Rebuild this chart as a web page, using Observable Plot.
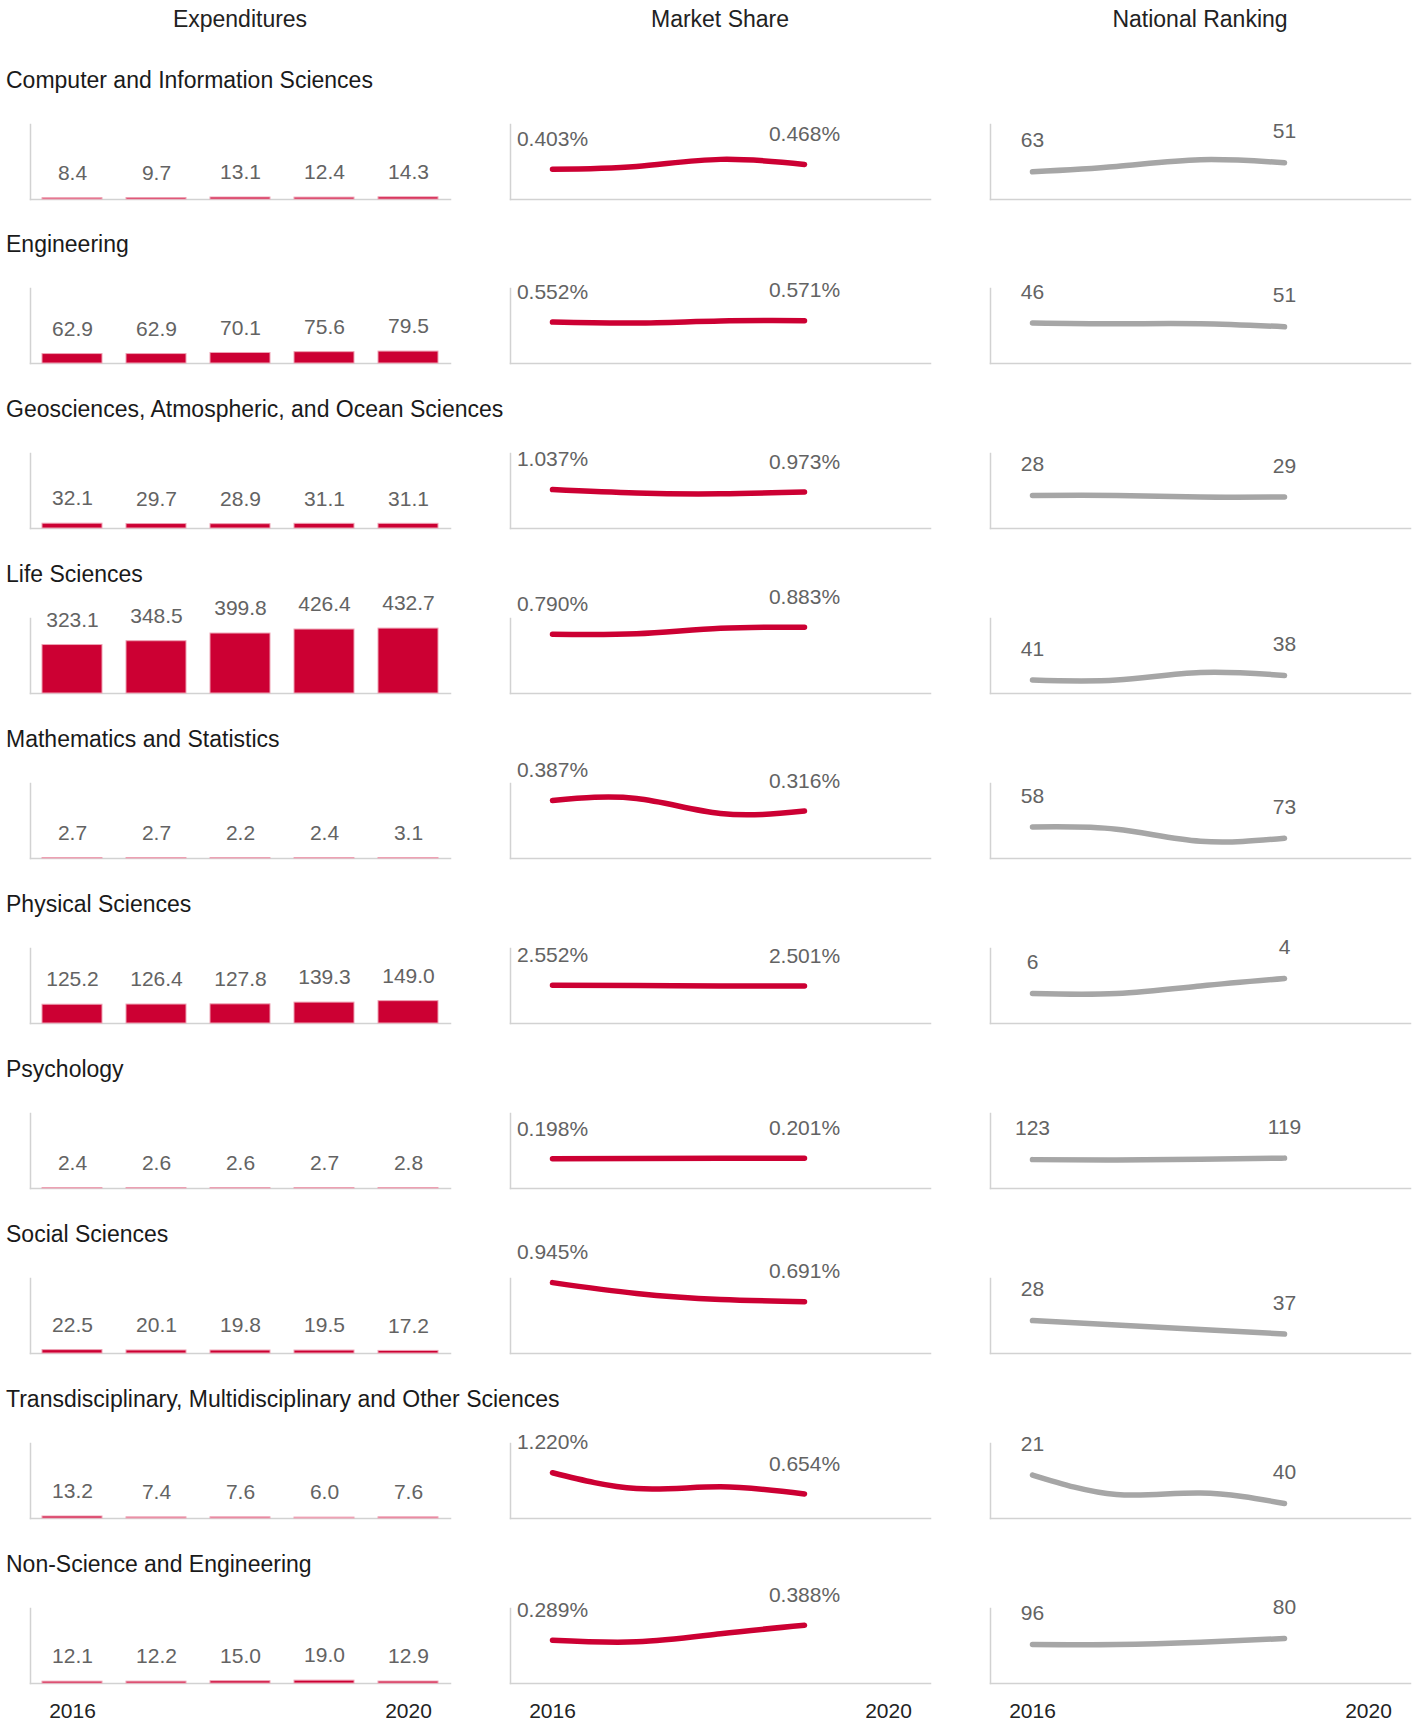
<!DOCTYPE html>
<html><head><meta charset="utf-8">
<script src="https://cdn.jsdelivr.net/npm/d3@7"></script>
<script src="https://cdn.jsdelivr.net/npm/@observablehq/plot@0.6"></script>
<style>
body{margin:0;background:#fff;font-family:"Liberation Sans",Arial,sans-serif;}
#wrap{position:relative;width:1416px;height:1723px;overflow:hidden;}
.hdr{position:absolute;top:0;width:480px;text-align:center;font-size:23px;color:#222;line-height:38px;}
.ttl{position:absolute;left:6px;font-size:23px;color:#1a1a1a;line-height:30px;white-space:nowrap;}
.cell{position:absolute;width:480px;}
.cell svg{max-width:none !important;}
</style></head><body><div id="wrap"></div><script>
const fields = [
  "Computer and Information Sciences",
  "Engineering",
  "Geosciences, Atmospheric, and Ocean Sciences",
  "Life Sciences",
  "Mathematics and Statistics",
  "Physical Sciences",
  "Psychology",
  "Social Sciences",
  "Transdisciplinary, Multidisciplinary and Other Sciences",
  "Non-Science and Engineering"
];
const columns = ["Expenditures", "Market Share", "National Ranking"];
const years = [2016, 2017, 2018, 2019, 2020];
const lineYears = [2016, 2017, 2018, 2019];
const tickYears = [2016, 2020];
const expenditures = [
  [8.4, 9.7, 13.1, 12.4, 14.3],
  [62.9, 62.9, 70.1, 75.6, 79.5],
  [32.1, 29.7, 28.9, 31.1, 31.1],
  [323.1, 348.5, 399.8, 426.4, 432.7],
  [2.7, 2.7, 2.2, 2.4, 3.1],
  [125.2, 126.4, 127.8, 139.3, 149.0],
  [2.4, 2.6, 2.6, 2.7, 2.8],
  [22.5, 20.1, 19.8, 19.5, 17.2],
  [13.2, 7.4, 7.6, 6.0, 7.6],
  [12.1, 12.2, 15.0, 19.0, 12.9]
];
const marketShare = [
  [0.403, 0.440, 0.535, 0.468],
  [0.552, 0.540, 0.567, 0.571],
  [1.037, 0.945, 0.925, 0.973],
  [0.790, 0.797, 0.870, 0.883],
  [0.387, 0.400, 0.300, 0.316],
  [2.552, 2.538, 2.505, 2.501],
  [0.198, 0.200, 0.201, 0.201],
  [0.945, 0.800, 0.720, 0.691],
  [1.220, 0.800, 0.845, 0.654],
  [0.289, 0.278, 0.332, 0.388]
];
const ranking = [
  [63, 56, 47, 51],
  [46, 47, 47, 51],
  [28, 28, 29, 29],
  [41, 41, 36, 38],
  [58, 61, 77, 73],
  [6, 6, 5, 4],
  [123, 124, 122, 119],
  [28, 31, 34, 37],
  [21, 34, 33, 40],
  [96, 96, 90, 80]
];

const RED = "#cc0033", GRAY = "#a6a6a6", AXIS = "#d2d2d2", LABEL = "#636363";
const FONT = '"Liberation Sans", Arial, sans-serif';
const ROW0 = 198.5, STEP = 164.9, PH = 75, MT = 45, MB = 40, W = 480;
const wrap = document.getElementById("wrap");

columns.forEach((c, i) => {
  const d = document.createElement("div");
  d.className = "hdr"; d.style.left = (i * W) + "px"; d.textContent = c;
  wrap.appendChild(d);
});

const expMax = d3.max(expenditures.flat());

function place(svg, left, top) {
  const d = document.createElement("div");
  d.className = "cell"; d.style.left = left + "px"; d.style.top = top + "px";
  d.appendChild(svg); wrap.appendChild(d);
}

fields.forEach((name, k) => {
  const base = ROW0 + STEP * k;
  const last = k === fields.length - 1;
  const t = document.createElement("div");
  t.className = "ttl"; t.style.top = (base - 119 - 15) + "px"; t.textContent = name;
  wrap.appendChild(t);

  const common = {
    width: W, height: PH + MT + MB,
    marginLeft: 30, marginRight: 30, marginTop: MT, marginBottom: MB,
    style: {background: "transparent", fontFamily: FONT, fontSize: "21px", overflow: "visible", maxWidth: "none"}
  };
  const frames = [
    Plot.frame({anchor: "left", stroke: AXIS, strokeWidth: 1.5}),
    Plot.frame({anchor: "bottom", stroke: AXIS, strokeWidth: 1.5})
  ];
  const xAxis = last ? [Plot.axisX({ticks: tickYears, tickSize: 0, tickPadding: 20, tickFormat: d => String(d), fontSize: 21, color: "#222", label: null})] : [];
  const top = base - PH - MT;

  // Expenditures
  const bars = years.map((y, i) => ({year: y, value: expenditures[k][i]}));
  place(Plot.plot({
    ...common,
    x: {type: "band", domain: years, paddingInner: 0.29, paddingOuter: 0.145, axis: null},
    y: {domain: [0, expMax * 1.05], nice: 1, axis: null},
    marks: [
      ...frames,
      Plot.barY(bars, {x: "year", y: "value", fill: RED, stroke: "#eea2b4", strokeWidth: 1}),
      Plot.text(bars, {x: "year", y: "value", text: d => d.value.toFixed(1), dy: -25, fill: LABEL, fontSize: 21}),
      ...xAxis
    ]
  }), 0, top);

  // Market share
  const ms = lineYears.map((y, i) => ({year: y, value: marketShare[k][i]}));
  place(Plot.plot({
    ...common,
    x: {type: "linear", domain: [2015.5, 2020.5], axis: null},
    y: {domain: [0, d3.max(marketShare[k]) * 1.05], nice: 1, axis: null},
    marks: [
      ...frames,
      Plot.line(ms, {x: "year", y: "value", stroke: RED, strokeWidth: 5.5, curve: "natural", strokeLinecap: "round"}),
      Plot.text(ms, Plot.selectFirst({x: "year", y: "value", text: d => d.value.toFixed(3) + "%", dy: -30, fill: LABEL, fontSize: 21})),
      Plot.text(ms, Plot.selectLast({x: "year", y: "value", text: d => d.value.toFixed(3) + "%", dy: -30, fill: LABEL, fontSize: 21})),
      ...xAxis
    ]
  }), W, top);

  // National ranking
  const rk = lineYears.map((y, i) => ({year: y, value: ranking[k][i]}));
  place(Plot.plot({
    ...common,
    x: {type: "linear", domain: [2015.5, 2020.5], axis: null},
    y: {domain: [0, d3.max(ranking[k]) * 1.05], nice: 1, reverse: true, axis: null},
    marks: [
      ...frames,
      Plot.line(rk, {x: "year", y: "value", stroke: GRAY, strokeWidth: 5.5, curve: "natural", strokeLinecap: "round"}),
      Plot.text(rk, Plot.selectFirst({x: "year", y: "value", text: d => String(d.value), dy: -31, fill: LABEL, fontSize: 21})),
      Plot.text(rk, Plot.selectLast({x: "year", y: "value", text: d => String(d.value), dy: -31, fill: LABEL, fontSize: 21})),
      ...xAxis
    ]
  }), 2 * W, top);
});
</script></body></html>
